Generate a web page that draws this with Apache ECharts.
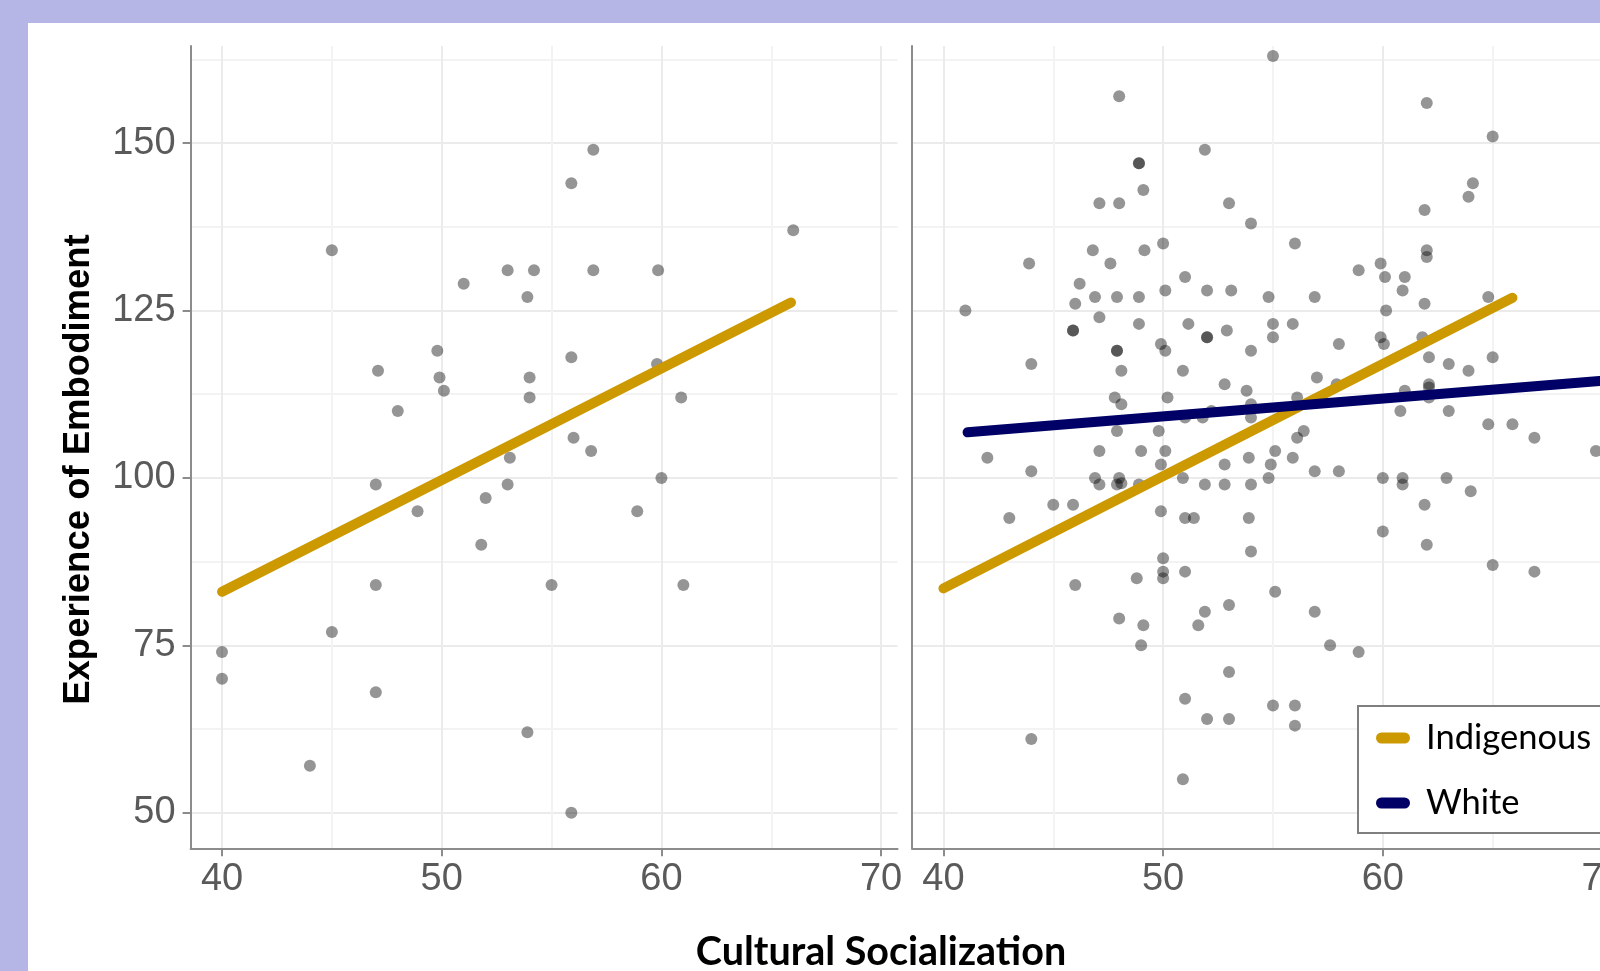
<!DOCTYPE html>
<html>
<head>
<meta charset="utf-8">
<script src="https://cdn.jsdelivr.net/npm/echarts@6/dist/echarts.min.js"></script>
<style>
  html, body { margin: 0; padding: 0; width: 1600px; height: 971px; overflow: hidden; background: #B5B5E6; position: relative; }
  #chart { position: absolute; left: 28px; top: 23px; width: 1640px; height: 948px; background: #ffffff; }
</style>
</head>
<body>
<div id="chart"></div>
<script>
// ---------- data ----------
const xTicks = [40, 50, 60, 70];
const xGridValues = [40, 45, 50, 55, 60, 65, 70];
const yTicks = [50, 75, 100, 125, 150];
const yGridValues = [50, 62.5, 75, 87.5, 100, 112.5, 125, 137.5, 150, 162.5];

const seriesNames = ['Indigenous', 'White'];

// left panel observations [Cultural Socialization, Experience of Embodiment]
const panel1Points = [
  [40,74],[40,70],[44,57],[45,134],[45,77],[47.1,116],[47,99],[47,84],[47,68],[48,110],
  [48.9,95],[49.8,119],[49.9,115],[50.1,113],[51,129],[51.8,90],[52,97],[53,131],[53.1,103],[53,99],
  [53.9,127],[54.2,131],[54,115],[54,112],[53.9,62],[55,84],[55.9,144],[55.9,118],[56,106],[55.9,50],
  [56.8,104],[56.9,149],[56.9,131],[58.9,95],[59.85,131],[59.8,117],[60,100],[60.9,112],[61,84],[66,137]
];

// right panel observations
const panel2Points = [
  [55,163],[48,157],[62,156],[65,151],[51.9,149],[48.9,147],[48.9,147],[64.1,144],[63.9,142],[49.1,143],
  [47.1,141],[48,141],[53,141],[61.9,140],[54,138],[50,135],[56,135],
  [46.8,134],[43.9,132],[47.6,132],[46.2,129],[46.9,127],[47.9,127],[46,126],[41,125],[47.1,124],
  [45.9,122],[45.9,122],[47.9,119],[47.9,119],[48.1,116],[44,117],[47.8,112],[48.1,111],[47.9,107],
  [47.1,104],[42,103],
  [49.15,134],[51,130],[48.9,127],[50.1,128],[52,128],[53.1,128],[54.8,127],[56.9,127],[48.9,123],
  [51.15,123],[52,121],[52,121],[52.9,122],[55,123],[55.9,123],[55,121],[49.9,120],[50.1,119],[54,119],
  [50.9,116],[57,115],[52.8,114],[53.8,113],[50.2,112],[56.1,112],[54,111],[52.2,110],[51,109],[51.8,109],
  [54,109],[49.8,107],[56.4,107],[56.1,106],[49,104],[50.1,104],[55.1,104],[55.9,103],
  [62,134],[62,133],[59.9,132],[58.9,131],[60.1,130],[61,130],[60.9,128],[64.8,127],[61.9,126],[60.15,125],
  [58,120],[59.9,121],[60.05,120],[61.8,121],[62.1,118],[63,117],[63.9,116],[65,118],[57.9,114],[61,113],
  [62.1,114],[62.1,113.5],[62.1,112],[60.8,110],[63,110],[64.8,108],[65.9,108],[66.9,106],[69.7,104],
  [56.9,101],[58,101],[60,100],[60.9,100],[60.9,99],[62.9,100],[64,98],[61.9,96],[60,92],[62,90],
  [65,87],[66.9,86],[56.9,80],[57.6,75],[58.9,74],
  [44,101],[46.9,100],[47.1,99],[48,100],[47.9,99],[48.1,99.2],[45,96],[45.9,96],[43,94],[46,84],[48,79],
  [49.9,102],[48.9,99],[50.9,100],[51.9,99],[52.8,102],[52.8,99],[53.9,103],[54,99],[54.9,102],[54.8,100],
  [49.9,95],[51,94],[51.4,94],[53.9,94],[54,89],[50,88],[50,86],[50,85],[48.8,85],[51,86],
  [55.1,83],[53,81],[51.9,80],[51.6,78],[49.1,78],[49,75],
  [53,71],[51,67],[52,64],[53,64],[55,66],[56,66],[56,63],[44,61],[50.9,55]
];

// fitted regression lines (end points)
const indigenousFitLeft = [[40, 83.0], [65.9, 126.2]];
const indigenousFitRight = [[40, 83.5], [65.9, 126.9]];
const whiteFitRight = [[41.1, 106.8], [70, 114.5]];

// ---------- styling ----------
const X_MIN = 38.57, X_MAX = 70.75;
const Y_MIN = 44.68, Y_MAX = 164.5;
const GOLD = '#CC9900', NAVY = '#000066';
const AXIS_GRAY = '#8c8c8c';
const LABEL = { fontFamily: '"Liberation Sans", Arial, sans-serif', fontSize: 38, color: '#5a5a5a' };

function mainX(grid) {
  return {
    type: 'value', gridIndex: grid, min: X_MIN, max: X_MAX, position: 'bottom',
    axisLine: { show: true, lineStyle: { color: AXIS_GRAY, width: 2 } },
    axisTick: { show: true, customValues: xTicks, length: 8, lineStyle: { color: AXIS_GRAY, width: 2 } },
    axisLabel: Object.assign({ show: true, customValues: xTicks, margin: 12 }, LABEL),
    splitLine: { show: false }
  };
}
function gridX(grid) {
  return {
    type: 'value', gridIndex: grid, min: X_MIN, max: X_MAX, position: 'bottom',
    axisLine: { show: false },
    axisTick: { show: false, customValues: xGridValues },
    axisLabel: { show: false },
    splitLine: { show: true, lineStyle: { color: ['#EBEBEB', '#F3F3F3'], width: 2 } }
  };
}
function mainY(grid, withLabels) {
  return {
    type: 'value', gridIndex: grid, min: Y_MIN, max: Y_MAX, position: 'left',
    axisLine: { show: true, lineStyle: { color: AXIS_GRAY, width: 2 } },
    axisTick: { show: withLabels, customValues: yTicks, length: 8, lineStyle: { color: AXIS_GRAY, width: 2 } },
    axisLabel: Object.assign({ show: withLabels, customValues: yTicks, margin: 15 }, LABEL),
    splitLine: { show: false }
  };
}
function gridY(grid) {
  return {
    type: 'value', gridIndex: grid, min: Y_MIN, max: Y_MAX, position: 'left',
    axisLine: { show: false },
    axisTick: { show: false, customValues: yGridValues },
    axisLabel: { show: false },
    splitLine: { show: true, lineStyle: { color: ['#EBEBEB', '#F3F3F3'], width: 2 } }
  };
}

function scatter(axisIdx, data) {
  return {
    type: 'scatter', xAxisIndex: axisIdx, yAxisIndex: axisIdx, data: data,
    symbol: 'circle', symbolSize: 12,
    itemStyle: { color: 'rgba(0,0,0,0.52)' },
    emphasis: { disabled: true }, silent: true, z: 2
  };
}
function fit(name, axisIdx, data, color) {
  return {
    type: 'line', name: name, xAxisIndex: axisIdx, yAxisIndex: axisIdx, data: data,
    symbol: 'none', showSymbol: false, color: color,
    itemStyle: { color: color },
    lineStyle: { color: color, width: 10, cap: 'round' },
    emphasis: { disabled: true }, silent: true, z: 3
  };
}

const chart = echarts.init(document.getElementById('chart'), null, { renderer: 'canvas' });
chart.setOption({
  animation: false,
  backgroundColor: '#ffffff',
  grid: [
    { left: 162.6, top: 23, width: 707, height: 802.3 },
    { left: 884, top: 23, width: 707, height: 802.3 }
  ],
  xAxis: [mainX(0), gridX(0), mainX(1), gridX(1)],
  yAxis: [mainY(0, true), gridY(0), mainY(1, false), gridY(1)],
  legend: {
    data: seriesNames,
    orient: 'vertical',
    left: 1330, top: 683,
    backgroundColor: '#ffffff',
    borderColor: '#7f7f7f', borderWidth: 2,
    padding: [12, 60, 10, 18],
    itemWidth: 34, itemHeight: 11, itemGap: 25,
    icon: 'path://M5.5,0H28.5A5.5,5.5,0,0,1,28.5,11H5.5A5.5,5.5,0,0,1,5.5,0Z',
    selectedMode: false,
    textStyle: { fontFamily: 'Lato, "Open Sans", sans-serif', fontSize: 34.5, color: '#000000', lineHeight: 40, padding: [0, 0, 0, 11] }
  },
  graphic: [
    {
      type: 'text', x: 51, y: 446.5, rotation: Math.PI / 2,
      style: { text: 'Experience of Embodiment', fontFamily: '"Liberation Sans", Arial, sans-serif',
               fontWeight: 'bold', fontSize: 36.5, fill: '#000000', align: 'center', verticalAlign: 'middle' }
    },
    {
      type: 'text', x: 853, y: 929,
      style: { text: 'Cultural Socialization', fontFamily: 'Lato, sans-serif',
               fontWeight: 'bold', fontSize: 39.5, fill: '#000000', align: 'center', verticalAlign: 'middle' }
    }
  ],
  series: [
    scatter(0, panel1Points),
    scatter(2, panel2Points),
    fit('Indigenous', 0, indigenousFitLeft, GOLD),
    fit('Indigenous', 2, indigenousFitRight, GOLD),
    fit('White', 2, whiteFitRight, NAVY)
  ]
});
</script>
</body>
</html>
